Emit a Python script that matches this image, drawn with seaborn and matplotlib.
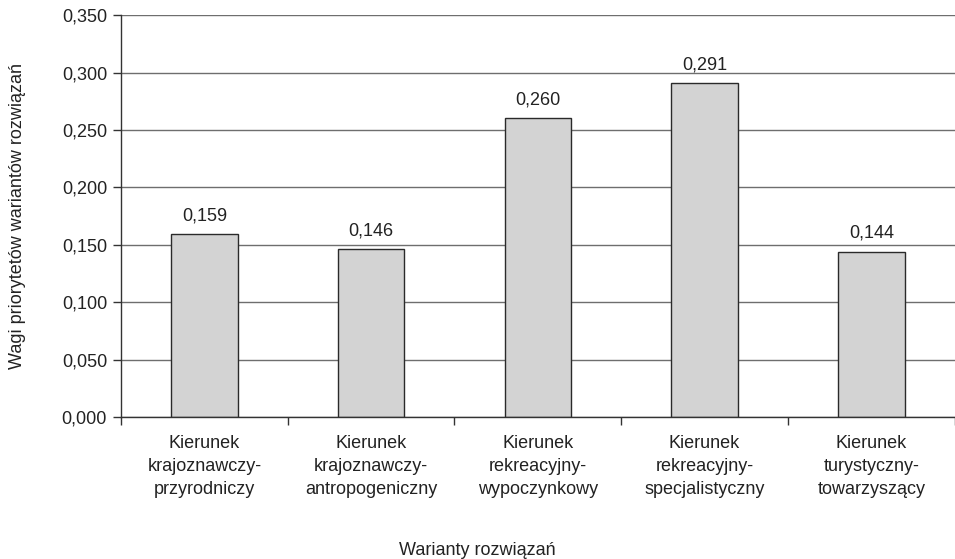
import matplotlib
matplotlib.use("Agg")
import matplotlib.pyplot as plt
import seaborn as sns
import pandas as pd
import numpy as np

categories = [
    "Kierunek\nkrajoznawczy-\nprzyrodniczy",
    "Kierunek\nkrajoznawczy-\nantropogeniczny",
    "Kierunek\nrekreacyjny-\nwypoczynkowy",
    "Kierunek\nrekreacyjny-\nspecjalistyczny",
    "Kierunek\nturystyczny-\ntowarzyszący",
]
weights = [0.159, 0.146, 0.260, 0.291, 0.144]
y_ticks = [0.000, 0.050, 0.100, 0.150, 0.200, 0.250, 0.300, 0.350]

sns.set_theme(style="white")
plt.rcParams["font.family"] = ["Liberation Sans", "DejaVu Sans"]

df = pd.DataFrame({"kat": categories, "waga": weights})

fig = plt.figure(figsize=(9.55, 5.59), dpi=100)
ax = fig.add_axes([0.1267, 0.254, 0.873, 0.719])

sns.barplot(data=df, x="kat", y="waga", ax=ax, width=0.4,
            color="#d3d3d3", edgecolor="#2a2a2a", linewidth=1.0,
            saturation=1, zorder=3)

FS = 13

ax.set_ylim(0, 0.35)
ax.set_xlim(-0.5, len(categories) - 0.5)
ax.set_yticks(y_ticks)
ax.set_yticklabels([f"{t:.3f}".replace(".", ",") for t in y_ticks],
                   fontsize=FS, color="#222222")
ax.yaxis.grid(True, color="#6e6e6e", linewidth=1.0, zorder=0)
ax.xaxis.grid(False)

# category separators as ticks below the axis
ax.set_xticks(np.arange(len(categories)))
ax.set_xticklabels(categories, fontsize=FS, color="#222222", linespacing=1.45)
ax.set_xticks(np.arange(-0.5, len(categories)), minor=True)
ax.tick_params(axis="x", which="major", length=0, pad=13)
ax.tick_params(axis="x", which="minor", length=6, width=1, color="#333333",
               direction="out", bottom=True)
ax.tick_params(axis="y", which="major", length=6, width=1, color="#333333",
               direction="out", left=True, pad=4)

for side in ["top", "right"]:
    ax.spines[side].set_visible(False)
for side in ["left", "bottom"]:
    ax.spines[side].set_color("#333333")
    ax.spines[side].set_linewidth(1.0)
    ax.spines[side].set_zorder(4)

for i, v in enumerate(weights):
    ax.annotate(f"{v:.3f}".replace(".", ","), (i, v), xytext=(0, 7),
                textcoords="offset points", ha="center", va="bottom",
                fontsize=FS, color="#222222")

ax.set_xlabel("Warianty rozwiązań", fontsize=FS, color="#222222")
# centre the x label on the whole figure width rather than the axes
ax.xaxis.set_label_coords(0.4275, -0.312)
ax.set_ylabel("Wagi priorytetów wariantów rozwiązań", fontsize=FS,
              color="#222222", labelpad=26)

fig.savefig("out.png", dpi=100)
